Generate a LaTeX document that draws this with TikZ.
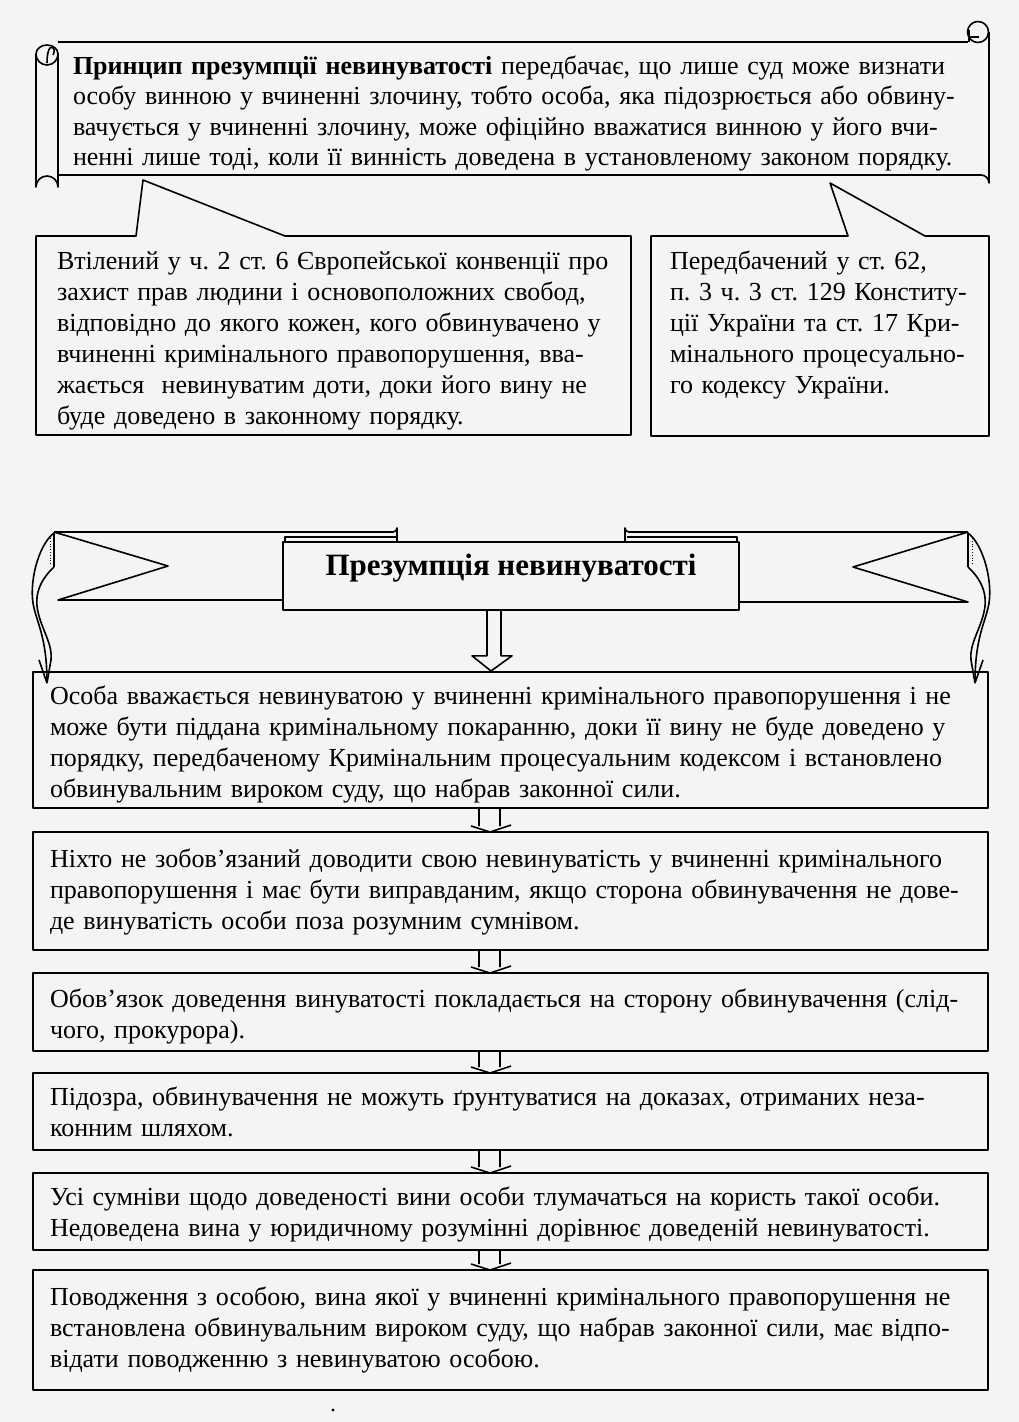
\documentclass[tikz,border=0pt]{standalone}
\usepackage{fontspec}
\setmainfont{Liberation Serif}
\usetikzlibrary{calc}
\definecolor{paper}{RGB}{244,244,244}
\newcommand\jl[2]{\par\noindent\hbox to #1pt{\strut #2}\par}
\newcommand\nl[1]{\par\noindent\hbox{\strut #1}\par}
\tikzset{
  ln/.style={line width=1.6pt, draw=black, line join=round},
  box/.style={ln, inner sep=0pt, outer sep=0pt, minimum width=955pt},
  txt/.style={anchor=north west, inner sep=0pt, outer sep=0pt, yshift=8pt, text width=980pt, font=\fontsize{26}{31}\selectfont\frenchspacing},
}
\newcommand\sarr[2]{\draw[ln] ($(#1.south)+(-31.5,0)$) -- ($(#2.north)+(-31.5,-6)$)
  ($(#1.south)+(-10.5,0)$) -- ($(#2.north)+(-10.5,-6)$)
  ($(#2.north)+(-39.5,-6)$) -- ($(#2.north)+(-20.5,0)$) -- ($(#2.north)+(0.5,-7)$);}
\begin{document}
\begin{tikzpicture}[x=1pt,y=-1pt]
\useasboundingbox[fill=paper] (0,0) rectangle (1019,1422);
% ---------- top scroll ----------
\draw[ln] (36,54) -- (36,187) arc[start angle=180, end angle=360, radius=11] -- (58,54) arc[start angle=0, end angle=180, radius=11];
\draw[ln] (36,54) arc[start angle=180, end angle=360, x radius=11, y radius=9];
\draw[ln] (47,63) .. controls (47,56) and (48,50) .. (50,48) .. controls (53,46) and (56,49) .. (53,55);
\draw[ln] (58,42) -- (968,42);
\draw[ln] (58,175) -- (981,175) arc[start angle=270, end angle=360, radius=8] -- (989,32);
\draw[ln] (978,32) circle[radius=10.5];
\draw[ln] (969,30) -- (969,42) (969,37) -- (979,37);
\node[txt, font=\fontsize{26}{30.5}\selectfont\frenchspacing] (ttop) at (73,51.6) {%
\jl{878}{\textbf{Принцип презумпції невинуватості} передбачає, що лише суд може визнати}
\jl{882}{особу винною у вчиненні злочину, тобто особа, яка підозрюється або обвину-}
\jl{882}{вачується у вчиненні злочину, може офіційно вважатися винною у його вчи-}
\jl{882}{ненні лише тоді, коли її винність доведена в установленому законом порядку.}};
% ---------- callouts ----------
\draw[ln] (36,236) -- (136,236) -- (143,180) -- (285,236) -- (631,236) -- (631,435) -- (36,435) -- cycle;
\draw[ln] (651,236) -- (848,236) -- (830,183) -- (925,236) -- (989,236) -- (989,436) -- (651,436) -- cycle;
\node[txt] (tleft) at (57,246.3) {%
\nl{Втілений у ч. 2 ст. 6 Європейської конвенції про}
\nl{захист прав людини і основоположних свобод,}
\nl{відповідно до якого кожен, кого обвинувачено у}
\nl{вчиненні кримінального правопорушення, вва-}
\nl{жається \ невинуватим доти, доки його вину не}
\nl{буде доведено в законному порядку.}};
\node[txt] (tright) at (670,246.3) {%
\nl{Передбачений у ст. 62,}
\nl{п. 3 ч. 3 ст. 129 Конститу-}
\nl{ції України та ст. 17 Кри-}
\nl{мінального процесуально-}
\nl{го кодексу України.}};
% ---------- banner ----------
\draw[ln] (54,532) -- (393,532) arc[start angle=90, end angle=0, radius=4] -- (397,542);
\draw[ln] (285,542) -- (285,537) -- (396,537);
\draw[ln] (54,532) -- (168,566) -- (58,600) -- (283,600);
\draw[ln] (968,532) -- (629,532) arc[start angle=90, end angle=180, radius=4] -- (625,542);
\draw[ln] (627,537) -- (737,537) -- (737,542);
\draw[ln] (968,532) -- (853,567) -- (968,602) -- (739,602);
\node[ln, fill=paper, minimum width=456pt, minimum height=68pt, inner sep=0pt] (hbx) at (511,576) {};
\node[font=\fontsize{31}{36}\selectfont\bfseries, inner sep=0pt] (htx) at (511,568) {Презумпція невинуватості};
% swirls
\foreach \s/\o in {1/0, -1/1022} {
\begin{scope}[shift={(\o,0)}, xscale=\s]
\draw[ln] (54,533) .. controls (38,545) and (28,585) .. (34,608) .. controls (38,625) and (47,640) .. (47,683);
\draw[ln] (54,567) .. controls (40,580) and (34,595) .. (38,612) .. controls (42,630) and (53,645) .. (51,660) -- (47,683);
\draw[ln] (39,660) -- (47,683);
\draw[ln] (54,533) -- (54,567);
\draw[dotted, line width=0.8pt] (50,538) -- (50,564);
\end{scope}}
% ---------- boxes ----------
\node[box, minimum height=136pt] (b1) at (510.5,740) {};
\node[box, minimum height=118pt] (b2) at (510.5,891) {};
\node[box, minimum height=78pt] (b3) at (510.5,1012) {};
\node[box, minimum height=77pt] (b4) at (510.5,1111.5) {};
\node[box, minimum height=77pt] (b5) at (510.5,1211.5) {};
\node[box, minimum height=120pt] (b6) at (510.5,1330) {};
\draw[ln] ($(hbx.south)+(-24,0)$) -- ($(hbx.south)+(-24,45)$) -- ($(hbx.south)+(-39,45)$) -- ($(b1.north)+(-19.5,-1)$) -- ($(hbx.south)+(1,45)$) -- ($(hbx.south)+(-10,45)$) -- ($(hbx.south)+(-10,0)$);
\sarr{b1}{b2}
\sarr{b2}{b3}
\sarr{b3}{b4}
\sarr{b4}{b5}
\sarr{b5}{b6}
\node[txt] (t1) at (50,681.3) {%
\jl{903}{Особа вважається невинуватою у вчиненні кримінального правопорушення і не}
\jl{895}{може бути піддана кримінальному покаранню, доки її вину не буде доведено у}
\jl{903}{порядку, передбаченому Кримінальним процесуальним кодексом і встановлено}
\nl{обвинувальним вироком суду, що набрав законної сили.}};
\node[txt] (t2) at (50,844.3) {%
\jl{895}{Ніхто не зобов’язаний доводити свою невинуватість у вчиненні кримінального}
\jl{905}{правопорушення і має бути виправданим, якщо сторона обвинувачення не дове-}
\nl{де винуватість особи поза розумним сумнівом.}};
\node[txt] (t3) at (50,984.3) {%
\jl{907}{Обов’язок доведення винуватості покладається на сторону обвинувачення (слід-}
\nl{чого, прокурора).}};
\node[txt] (t4) at (50,1082.3) {%
\jl{907}{Підозра, обвинувачення не можуть ґрунтуватися на доказах, отриманих неза-}
\nl{конним шляхом.}};
\node[txt] (t5) at (50,1182.3) {%
\nl{Усі сумніви щодо доведеності вини особи тлумачаться на користь такої особи.}
\nl{Недоведена вина у юридичному розумінні дорівнює доведеній невинуватості.}};
\node[txt] (t6) at (50,1282.3) {%
\jl{900}{Поводження з особою, вина якої у вчиненні кримінального правопорушення не}
\jl{905}{встановлена обвинувальним вироком суду, що набрав законної сили, має відпо-}
\nl{відати поводженню з невинуватою особою.}};
\fill (333,1410) circle[radius=1.6];
\end{tikzpicture}
\end{document}
